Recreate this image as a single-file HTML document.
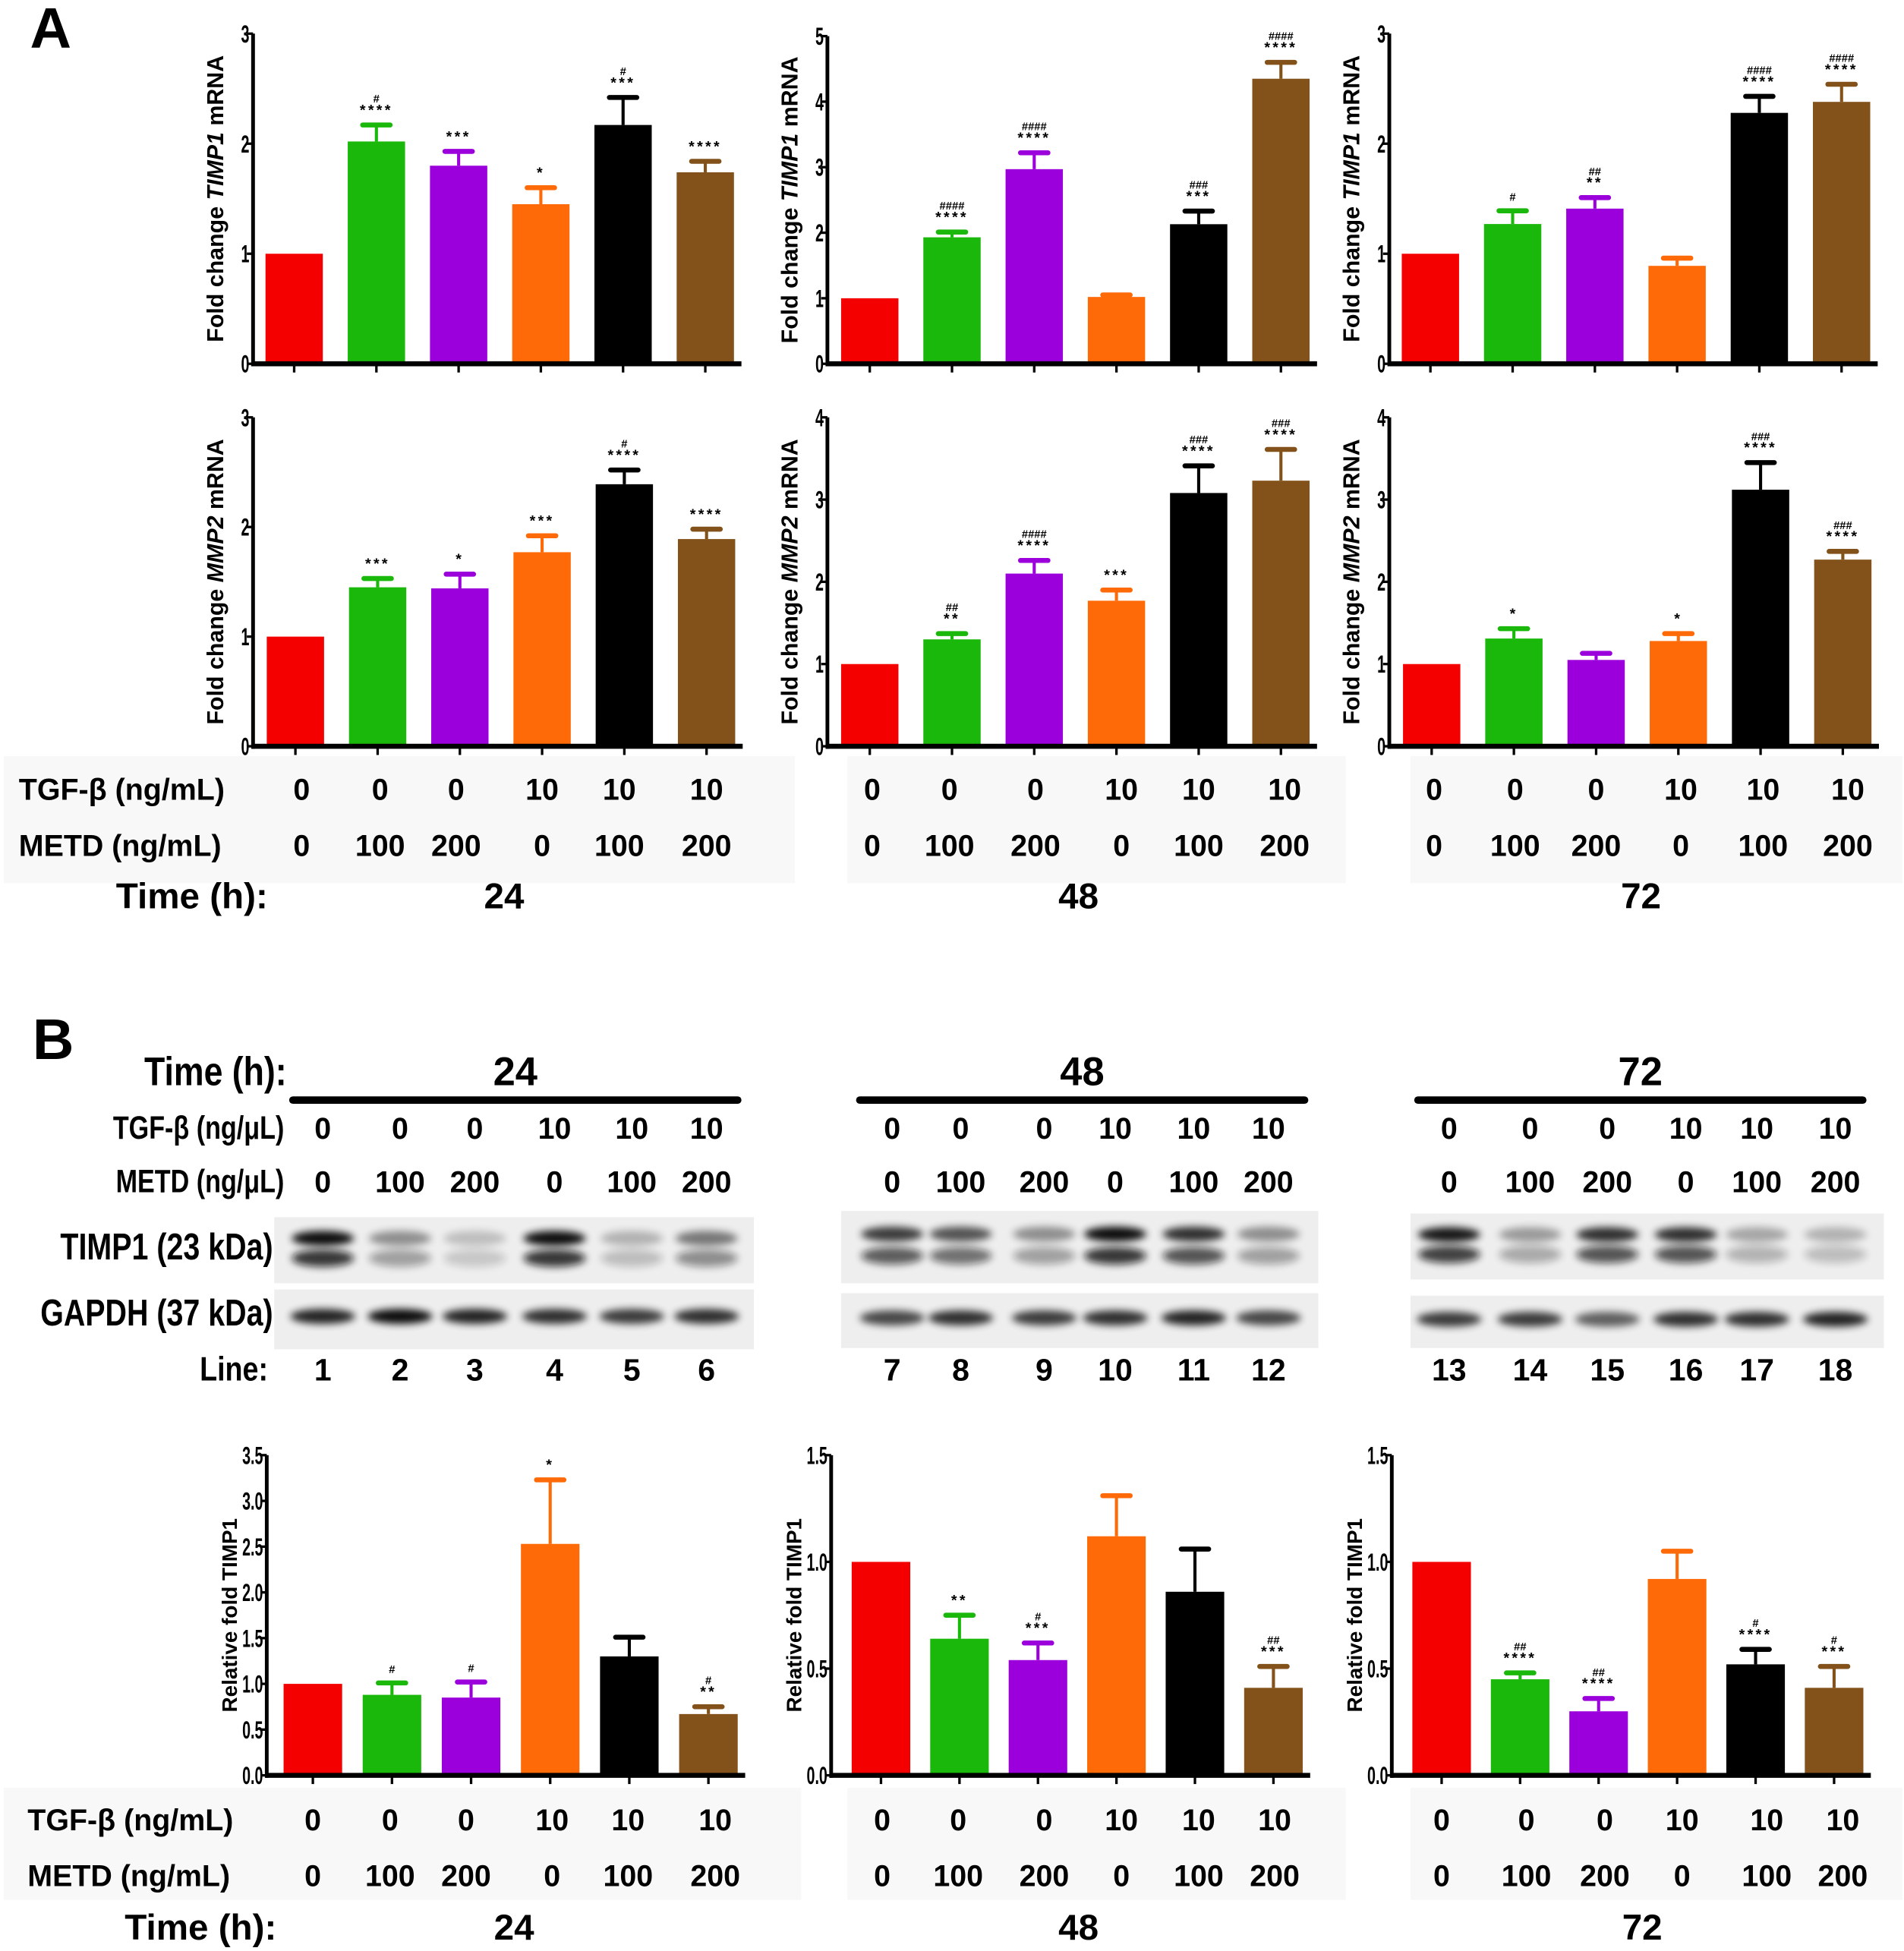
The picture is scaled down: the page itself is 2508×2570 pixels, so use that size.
<!DOCTYPE html>
<html><head><meta charset="utf-8"><style>
html,body{margin:0;padding:0;background:#fff}
svg{display:block}
text{font-family:"Liberation Sans",sans-serif;font-weight:bold;fill:#000}
</style></head><body>
<svg id="fig" width="2508" height="2570" viewBox="0 0 1528 1566" xmlns="http://www.w3.org/2000/svg">
<defs><filter id="blur" x="-50%" y="-50%" width="200%" height="200%"><feGaussianBlur stdDeviation="3"/></filter></defs>
<text x="24" y="38" font-size="46">A</text>
<text x="26" y="850" font-size="46">B</text>
<g id="charts"></g>
<g id="blots"></g>
</svg>
<script>
const colors = ["#f50000","#1ab80a","#9b00dc","#ff6a08","#000000","#83521a"];
const tgf = ["0","0","0","10","10","10"];
const metd = ["0","100","200","0","100","200"];
const times = ["24","48","72"];
// TIMP1 mRNA
const timp24 = [1,2.02,1.8,1.45,2.17,1.74];
const timp24Err = [0,0.15,0.13,0.15,0.25,0.1];
const timp24Sig = ["","#|****","***","*","#|***","****"];
const timp48 = [1,1.93,2.97,1.02,2.13,4.35];
const timp48Err = [0,0.08,0.25,0.03,0.2,0.25];
const timp48Sig = ["","####|****","####|****","","###|***","####|****"];
const timp72 = [1,1.27,1.41,0.89,2.28,2.38];
const timp72Err = [0,0.12,0.1,0.07,0.15,0.16];
const timp72Sig = ["","#","##|**","","####|****","####|****"];
// MMP2 mRNA
const mmp24 = [1,1.45,1.44,1.77,2.39,1.89];
const mmp24Err = [0,0.08,0.13,0.15,0.13,0.09];
const mmp24Sig = ["","***","*","***","#|****","****"];
const mmp48 = [1,1.3,2.1,1.77,3.08,3.23];
const mmp48Err = [0,0.07,0.16,0.13,0.33,0.38];
const mmp48Sig = ["","##|**","####|****","***","###|****","###|****"];
const mmp72 = [1,1.31,1.05,1.28,3.12,2.27];
const mmp72Err = [0,0.12,0.08,0.09,0.33,0.1];
const mmp72Sig = ["","*","","*","###|****","###|****"];
// Relative fold TIMP1 protein
const rel24 = [1,0.88,0.85,2.53,1.3,0.67];
const rel24Err = [0,0.13,0.17,0.7,0.21,0.08];
const rel24Sig = ["","#","#","*","","#|**"];
const rel48 = [1,0.64,0.54,1.12,0.86,0.41];
const rel48Err = [0,0.11,0.08,0.19,0.2,0.1];
const rel48Sig = ["","**","#|***","","","##|***"];
const rel72 = [1,0.45,0.3,0.92,0.52,0.41];
const rel72Err = [0,0.03,0.06,0.13,0.07,0.1];
const rel72Sig = ["","##|****","##|****","","#|****","#|***"];
const yMaxes = [3,5,3,3,4,4,3.5,1.5,1.5];
const yStepsTop = [1,1,1,1,1,1,0.5,0.5,0.5];

const NS="http://www.w3.org/2000/svg";
function el(tag,attrs,parent,txt){const e=document.createElementNS(NS,tag);for(const k in attrs)e.setAttribute(k,attrs[k]);if(txt!==undefined)e.textContent=txt;parent.appendChild(e);return e;}
const charts=document.getElementById('charts');

[[3,607,635,102],[680,607,400,102],[1132,607,395,102],[3,1435,640,90],[680,1435,400,90],[1132,1435,395,90]].forEach(b=>{
  el('rect',{x:b[0],y:b[1],width:b[2],height:b[3],fill:'#f8f8f8'},charts);
});

const panels=[
 {v:timp24,e:timp24Err,s:timp24Sig,ax:203,yT:27,yB:292,ylab:["Fold change ","TIMP1"," mRNA"],off:33,sp:66,bw:46,dec:0},
 {v:timp48,e:timp48Err,s:timp48Sig,ax:664,yT:29,yB:292,ylab:["Fold change ","TIMP1"," mRNA"],off:34,sp:66,bw:46,dec:0},
 {v:timp72,e:timp72Err,s:timp72Sig,ax:1115,yT:27,yB:292,ylab:["Fold change ","TIMP1"," mRNA"],off:33,sp:66,bw:46,dec:0},
 {v:mmp24,e:mmp24Err,s:mmp24Sig,ax:203,yT:335,yB:599,ylab:["Fold change ","MMP2"," mRNA"],off:34,sp:66,bw:46,dec:0},
 {v:mmp48,e:mmp48Err,s:mmp48Sig,ax:664,yT:335,yB:599,ylab:["Fold change ","MMP2"," mRNA"],off:34,sp:66,bw:46,dec:0},
 {v:mmp72,e:mmp72Err,s:mmp72Sig,ax:1115,yT:335,yB:599,ylab:["Fold change ","MMP2"," mRNA"],off:34,sp:66,bw:46,dec:0},
 {v:rel24,e:rel24Err,s:rel24Sig,ax:214,yT:1168,yB:1425,ylab:["Relative fold TIMP1"],off:37,sp:63.5,bw:47,dec:1},
 {v:rel48,e:rel48Err,s:rel48Sig,ax:667,yT:1168,yB:1425,ylab:["Relative fold TIMP1"],off:40,sp:63,bw:47,dec:1},
 {v:rel72,e:rel72Err,s:rel72Sig,ax:1117,yT:1168,yB:1425,ylab:["Relative fold TIMP1"],off:40,sp:63,bw:47,dec:1},
];

panels.forEach((p,pi)=>{
  const g=el('g',{},charts);
  
  
  const max=yMaxes[pi], step=yStepsTop[pi];
  const y=v=>p.yB-(v/max)*(p.yB-p.yT);
  const xc=i=>p.ax+p.off+i*p.sp;
  const xEnd=xc(5)+p.bw/2+6;
  p.v.forEach((v,i)=>{
    const r=el('rect',{x:xc(i)-p.bw/2,y:y(v),width:p.bw,height:p.yB-y(v),fill:colors[i]},g);
    
    
    if(p.e[i]>0){
      const top=y(v+p.e[i]);
      el('line',{x1:xc(i),x2:xc(i),y1:y(v),y2:top,stroke:colors[i],'stroke-width':2.5},g);
      el('line',{x1:xc(i)-11,x2:xc(i)+11,y1:top,y2:top,stroke:colors[i],'stroke-width':4,'stroke-linecap':'round'},g);
    }
    const sig=p.s[i];
    if(sig){
      const parts=sig.split('|');
      let base=y(v+p.e[i])-8;
      for(let k=parts.length-1;k>=0;k--){
        const t=el('text',{x:xc(i),y:base,'font-size':parts[k].includes('#')?9:12,'text-anchor':'middle','font-weight':'normal','letter-spacing':parts[k].includes('*')?2:0},g,parts[k]);
        
        
        base-=10;
      }
    }
    el('line',{x1:xc(i),x2:xc(i),y1:p.yB,y2:p.yB+7,stroke:'#000','stroke-width':2},g);
  });
  const ya=el('line',{x1:p.ax,x2:p.ax,y1:p.yT,y2:p.yB+2,stroke:'#000','stroke-width':3},g);
  
  
  const xa=el('line',{x1:p.ax-1,x2:xEnd,y1:p.yB,y2:p.yB,stroke:'#000','stroke-width':4},g);
  
  
  for(let t=0;t<=max+1e-9;t+=step){
    el('line',{x1:p.ax-5,x2:p.ax,y1:y(t),y2:y(t),stroke:'#000','stroke-width':2},g);
    const tl=el('text',{x:p.ax-3,y:y(t)+7,'font-size':20,'text-anchor':'end',transform:`translate(${p.ax-3} 0) scale(0.6 1) translate(${-(p.ax-3)} 0)`},g,t.toFixed(p.dec));
    
    
  }
  const cy=(p.yT+p.yB)/2, lx=p.ax-24;
  const yl=el('text',{x:lx,y:cy,'font-size':p.dec?17:18.5,'text-anchor':'middle',transform:`rotate(-90 ${lx} ${cy})`},g);
  
  
  p.ylab.forEach((s,k)=>{el('tspan',{'font-style':k===1?'italic':'normal'},yl,s);});
});

function table(rowsY,tY,cols,labelX,fs,timeX){
  [["TGF-β (ng/mL)",tgf],["METD (ng/mL)",metd]].forEach((r,ri)=>{
    const t=el('text',{x:labelX,y:rowsY[ri],'font-size':fs},charts,r[0]);
    
    
  });
  const tl=el('text',{x:timeX,y:tY,'font-size':29},charts,"Time (h):");
  
  
  cols.forEach((c,gi)=>{
    c.forEach((x,i)=>{
      el('text',{x:x,y:rowsY[0],'font-size':fs,'text-anchor':'middle'},charts,tgf[i]);
      el('text',{x:x,y:rowsY[1],'font-size':fs,'text-anchor':'middle'},charts,metd[i]);
    });
    const tv=el('text',{x:(c[0]+c[5])/2,y:tY,'font-size':29,'text-anchor':'middle'},charts,times[gi]);
    
    
  });
}
table([642,687],729,[[242,305,366,435,497,567],[700,762,831,900,962,1031],[1151,1216,1281,1349,1415,1483]],15,24,93);
table([1469,1514],1557,[[251,313,374,443,504,574],[708,769,838,900,962,1023],[1157,1225,1288,1350,1418,1479]],22,24,100);

const blots=document.getElementById('blots');
const laneX=[[259,321,381,445,507,567],[716,771,838,895,958,1018],[1163,1228,1290,1353,1410,1473]];
const timpInt=[[0.95,0.4,0.2,0.95,0.25,0.5],[0.75,0.65,0.4,0.95,0.8,0.4],[0.9,0.35,0.8,0.8,0.3,0.25]];
const gapInt=[[0.85,0.95,0.85,0.8,0.75,0.8],[0.7,0.8,0.75,0.8,0.85,0.7],[0.75,0.75,0.6,0.8,0.8,0.85]];
const timpBox=[[220,977,385,53],[675,972,383,58],[1132,974,380,53]];
const gapBox=[[220,1035,385,48],[675,1038,383,44],[1132,1040,380,42]];
const lineX=[[235,592],[690,1047],[1138,1495]];
const blotTime=el('text',{x:230,y:871,'font-size':32,'text-anchor':'end',transform:'translate(230 0) scale(0.85 1) translate(-230 0)'},blots,"Time (h):");


[["TGF-β (ng/μL)",914],["METD (ng/μL)",957]].forEach(r=>{
  const t=el('text',{x:228,y:r[1],'font-size':26,'text-anchor':'end',transform:`translate(228 0) scale(0.8 1) translate(-228 0)`},blots,r[0]);
  
  
});
[["TIMP1 (23 kDa)",1011],["GAPDH (37 kDa)",1064]].forEach(r=>{
  const t=el('text',{x:219,y:r[1],'font-size':30,'text-anchor':'end',transform:`translate(219 0) scale(0.8 1) translate(-219 0)`},blots,r[0]);
  
  
});
const ln=el('text',{x:215,y:1108,'font-size':27,'text-anchor':'end',transform:'translate(215 0) scale(0.85 1) translate(-215 0)'},blots,"Line:");


laneX.forEach((xs,gi)=>{
  const t=el('text',{x:(lineX[gi][0]+lineX[gi][1])/2,y:871,'font-size':32,'text-anchor':'middle'},blots,times[gi]);
  
  
  el('line',{x1:lineX[gi][0],x2:lineX[gi][1],y1:883,y2:883,stroke:'#000','stroke-width':6,'stroke-linecap':'round'},blots);
  const tb=timpBox[gi], gb=gapBox[gi];
  const r1=el('rect',{x:tb[0],y:tb[1],width:tb[2],height:tb[3],fill:'#eeeeee'},blots);
  
  
  const r2=el('rect',{x:gb[0],y:gb[1],width:gb[2],height:gb[3],fill:'#eeeeee'},blots);
  
  
  xs.forEach((x,i)=>{
    el('text',{x:x,y:914,'font-size':24,'text-anchor':'middle'},blots,tgf[i]);
    el('text',{x:x,y:957,'font-size':24,'text-anchor':'middle'},blots,metd[i]);
    el('text',{x:x,y:1108,'font-size':25,'text-anchor':'middle'},blots,String(gi*6+i+1));
    const a=timpInt[gi][i];
    el('ellipse',{cx:x,cy:tb[1]+tb[3]*0.32,rx:25,ry:6,fill:'#000',opacity:a,filter:'url(#blur)'},blots);
    el('ellipse',{cx:x,cy:tb[1]+tb[3]*0.62,rx:25,ry:7,fill:'#111',opacity:a*0.85,filter:'url(#blur)'},blots);
    el('ellipse',{cx:x,cy:gb[1]+gb[3]*0.45,rx:26,ry:6,fill:'#000',opacity:gapInt[gi][i],filter:'url(#blur)'},blots);
  });
});
</script>
</body></html>
